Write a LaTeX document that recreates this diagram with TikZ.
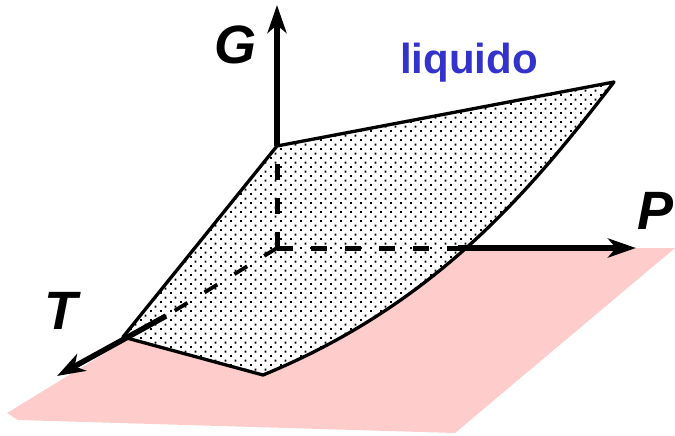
\documentclass[tikz,border=0pt]{standalone}
\usepackage{fontspec}
\setmainfont{Liberation Sans}
\usetikzlibrary{arrows.meta,patterns.meta}
\definecolor{planepink}{RGB}{255,204,204}
\definecolor{liqblue}{RGB}{51,51,204}
\tikzdeclarepattern{name=surfdots, type=uncolored,
  bounding box={(0pt,0pt) and (10pt,8.8pt)},
  tile size={(10pt,8.8pt)},
  code={\pgfpathrectangle{\pgfpointorigin}{\pgfqpoint{2pt}{2pt}}%
        \pgfpathrectangle{\pgfqpoint{5pt}{4.4pt}}{\pgfqpoint{2pt}{2pt}}%
        \pgfusepath{fill}}}
\tikzset{
  axisline/.style={line width=5.5pt, -{Stealth[length=28pt,width=19pt,inset=8pt]}},
  dashedaxis/.style={line width=5pt, dash pattern=on 16pt off 18pt},
  tdashed/.style={line width=3.8pt, dash pattern=on 15pt off 20pt},
  edge/.style={line width=3.3pt, line join=round},
  axislabel/.style={font=\fontsize{54}{60}\selectfont\bfseries\itshape, inner sep=0pt},
}
\begin{document}
\begin{tikzpicture}[x=1pt,y=-1pt]
\useasboundingbox (0,0) rectangle (675,436);
% key points
\coordinate (O) at (277,248);
\coordinate (A) at (277,146);
\coordinate (B) at (614,82);
\coordinate (C) at (263,375);
\coordinate (D) at (123,337);
\coordinate (Q) at (458,248);
\coordinate (Gtip) at (277,5);
\coordinate (Ptip) at (636,248);
\coordinate (Tm) at (166,316);
\coordinate (Ttip) at (57,376);
% pink plane
\fill[planepink] (7,413) -- (O) -- (675,248) -- (455,433) -- (18,420) -- cycle;
% surface
\fill[white] (A) -- (B) .. controls (535,184) and (441,302) .. (C) -- (D) -- cycle;
\fill[pattern=surfdots, pattern color=black] (A) -- (B) .. controls (535,184) and (441,302) .. (C) -- (D) -- cycle;
\draw[edge] (A) -- (B) .. controls (535,184) and (441,302) .. (C) -- (D) -- cycle;
% axes
\draw[axisline] (A) -- (Gtip);
\draw[dashedaxis] (O) -- (A);
\draw[dashedaxis] (O) -- (Q);
\draw[axisline] (Q) -- (Ptip);
\draw[tdashed] (O) -- (Tm);
\draw[axisline] (Tm) -- (Ttip);
% labels
\node[axislabel] (lG) at (235,45) {G};
\node[axislabel] (lP) at (656,211) {P};
\node[axislabel] (lT) at (61,311) {T};
\node[font=\fontsize{42}{48}\selectfont\bfseries, text=liqblue, inner sep=0pt, anchor=base west] (lliq) at (400,74) {liquido};
\end{tikzpicture}
\end{document}
